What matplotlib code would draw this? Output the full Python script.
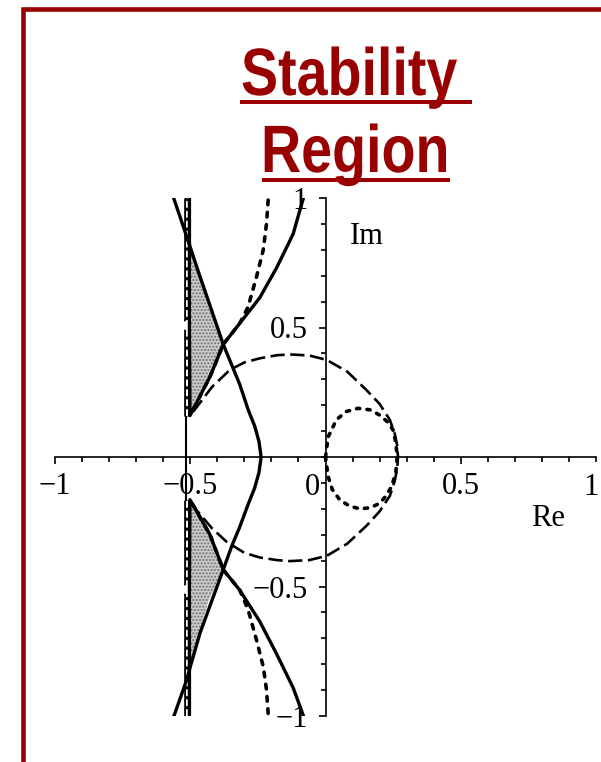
import numpy as np
import matplotlib
matplotlib.use("Agg")
import matplotlib.pyplot as plt
from matplotlib.lines import Line2D
from matplotlib.patches import PathPatch
from matplotlib.textpath import TextPath
from matplotlib.font_manager import FontProperties
from matplotlib.transforms import Affine2D

W, H = 601, 762
RED = "#990000"

# boundary curves (Re, Im)
a_re = [-0.563, -0.538, -0.513, -0.468, -0.434, -0.378, -0.317, -0.285, -0.262, -0.246, -0.238,
        -0.246, -0.262, -0.285, -0.317, -0.347, -0.378, -0.415, -0.464, -0.500, -0.513, -0.563]
a_im = [1.005, 0.928, 0.850, 0.709, 0.606, 0.435, 0.280, 0.180, 0.120, 0.060, 0.0,
        -0.060, -0.120, -0.180, -0.270, -0.345, -0.435, -0.540, -0.680, -0.810, -0.860, -1.008]

b_re = [-0.503, -0.503, -0.501, -0.427, -0.378, -0.317, -0.243, -0.181, -0.120, -0.083]
b_im_up = [1.0, 0.5, 0.160, 0.310, 0.435, 0.516, 0.615, 0.730, 0.860, 0.995]
b_im_lo = [-1.0, -0.5, -0.165, -0.300, -0.435, -0.514, -0.635, -0.760, -0.890, -0.995]

c_re = [-0.212, -0.218, -0.230, -0.255, -0.286, -0.317, -0.378, -0.427, -0.501]
c_im_up = [0.992, 0.902, 0.800, 0.696, 0.580, 0.516, 0.435, 0.310, 0.160]
c_im_lo = [-0.990, -0.900, -0.810, -0.707, -0.590, -0.514, -0.435, -0.300, -0.165]

d_re = [-0.489, -0.420, -0.354, -0.300, -0.243, -0.180, -0.132, -0.060, 0.004, 0.080,
        0.151, 0.200, 0.238, 0.256, 0.265, 0.268,
        0.265, 0.256, 0.238, 0.200, 0.151, 0.080, 0.004, -0.060, -0.132, -0.180, -0.243,
        -0.300, -0.366, -0.420, -0.489]
d_im = [0.175, 0.270, 0.336, 0.365, 0.381, 0.393, 0.396, 0.392, 0.375, 0.330,
        0.259, 0.205, 0.143, 0.090, 0.045, 0.0,
        -0.045, -0.092, -0.150, -0.210, -0.266, -0.335, -0.382, -0.398, -0.402, -0.398, -0.388,
        -0.370, -0.327, -0.275, -0.190]

e_re = [0.0, 0.010, 0.040, 0.075, 0.120, 0.165, 0.200, 0.232, 0.250, 0.260, 0.265,
        0.260, 0.244, 0.220, 0.200, 0.165, 0.127, 0.090, 0.053, 0.025, 0.010, 0.0]
e_im = [0.0, 0.078, 0.143, 0.175, 0.188, 0.182, 0.162, 0.133, 0.104, 0.055, 0.0,
        -0.060, -0.115, -0.155, -0.179, -0.196, -0.200, -0.190, -0.166, -0.125, -0.076, 0.0]

# shaded part of the region, upper and lower wedge
sh_re = [-0.503, -0.503, -0.468, -0.434, -0.378, -0.427, -0.501]
sh_im_up = [0.160, 0.850, 0.709, 0.606, 0.435, 0.310, 0.160]
sh_im_lo = [-0.165, -0.850, -0.680, -0.560, -0.435, -0.300, -0.165]

xticks = [-1, -0.5, 0.5]
yticks = [-1, -0.5, 0.5, 1]
xticklabels = ["\u22121", "\u22120.5", "0.5"]
yticklabels = ["\u22121", "\u22120.5", "0.5", "1"]

plt.rcParams["font.family"] = ["Liberation Serif", "DejaVu Serif"]

fig = plt.figure(figsize=(W / 100, H / 100), dpi=100)


def px_line(xs, ys, **kw):
    fig.add_artist(Line2D([x / W for x in xs], [1 - y / H for y in ys],
                          transform=fig.transFigure, **kw))


def narrow_title(s, x0, baseline, size=67, squeeze=0.83):
    # bold sans squeezed sideways, placed in pixel coordinates
    tp = TextPath((0, 0), s, size=size,
                  prop=FontProperties(family="Liberation Sans", weight="bold"))
    tr = Affine2D().scale(squeeze, 1).translate(x0, H - baseline)
    fig.add_artist(PathPatch(tp, transform=tr, facecolor=RED, edgecolor="none"))


# frame and title
px_line([22.8, 22.8, W + 5], [H + 5, 9.3, 9.3], color=RED, lw=3.3,
        solid_joinstyle="miter")
narrow_title("Stability", 241, 95)
narrow_title("Region", 261, 172)
px_line([240, 472], [102, 102], color=RED, lw=2.9, solid_capstyle="butt")
px_line([262, 450], [180, 180], color=RED, lw=2.9, solid_capstyle="butt")

ax = fig.add_axes([55 / W, 46 / H, 541 / W, 518 / H])
ax.set_xlim(-1, 1)
ax.set_ylim(-1, 1)
ax.patch.set_alpha(0)

for side in ["top", "right"]:
    ax.spines[side].set_visible(False)
ax.spines["left"].set_position(("data", 0))
ax.spines["bottom"].set_position(("data", 0))
for side in ["left", "bottom"]:
    ax.spines[side].set_linewidth(1.2)

ax.set_xticks(xticks)
ax.set_xticklabels(xticklabels)
ax.set_yticks(yticks)
ax.set_yticklabels(yticklabels)
ax.set_xticks(np.arange(-1, 1.01, 0.1), minor=True)
ax.set_yticks(np.arange(-1, 1.01, 0.1), minor=True)
ax.tick_params(which="both", direction="out", width=1.2, labelsize=22)
ax.tick_params(which="major", length=4.8)
ax.tick_params(which="minor", length=3.6)
ax.tick_params(axis="x", pad=6)
ax.tick_params(axis="y", pad=8)
ax.text(-0.05, -0.118, "0", fontsize=22, ha="center", va="center")
ax.text(1.008, -0.118, "1", fontsize=22, ha="right", va="center")
ax.text(0.09, 0.823, "Im", fontsize=22, ha="left", va="baseline")
ax.text(0.76, -0.268, "Re", fontsize=22, ha="left", va="baseline")

# stippled wedges
for im in (sh_im_up, sh_im_lo):
    ax.fill(sh_re, im, facecolor="#cdcdcd", edgecolor="#6e6e6e", hatch=".....",
            lw=0, zorder=1)

# the line Re = -1/2 with its dashed double edge
ax.plot([-0.517, -0.517], [-1.0, 1.0], color="black", lw=1.5, zorder=3)
for y0, y1 in [(0.16, 1.0), (-1.0, -0.165)]:
    ax.plot([-0.511, -0.511], [y0, y1], color="black", lw=4.8, zorder=3,
            solid_capstyle="butt")
    ax.plot([-0.511, -0.511], [y0, y1], color="white", lw=1.4, zorder=4,
            linestyle=(0, (3.5, 1.6)))
ax.plot([-0.514, -0.514], [0.51, -0.51], "o", color="white", ms=6.5, mew=0,
        zorder=5)

ax.plot(a_re, a_im, color="black", lw=2.4, zorder=6)
ax.plot(b_re, b_im_up, color="black", lw=2.4, zorder=6)
ax.plot(b_re, b_im_lo, color="black", lw=2.4, zorder=6)
ax.plot(c_re, c_im_up, color="black", lw=2.6, zorder=6,
        linestyle=(0, (1.3, 2.1)), dash_capstyle="round")
ax.plot(c_re, c_im_lo, color="black", lw=2.6, zorder=6,
        linestyle=(0, (1.3, 2.1)), dash_capstyle="round")
ax.plot(d_re, d_im, color="black", lw=1.9, zorder=6,
        linestyle=(0, (5.4, 2.1)))
ax.plot(e_re, e_im, color="black", lw=2.6, zorder=6,
        linestyle=(0, (0.9, 2.0)), dash_capstyle="round")

fig.savefig("out.png", dpi=100)
